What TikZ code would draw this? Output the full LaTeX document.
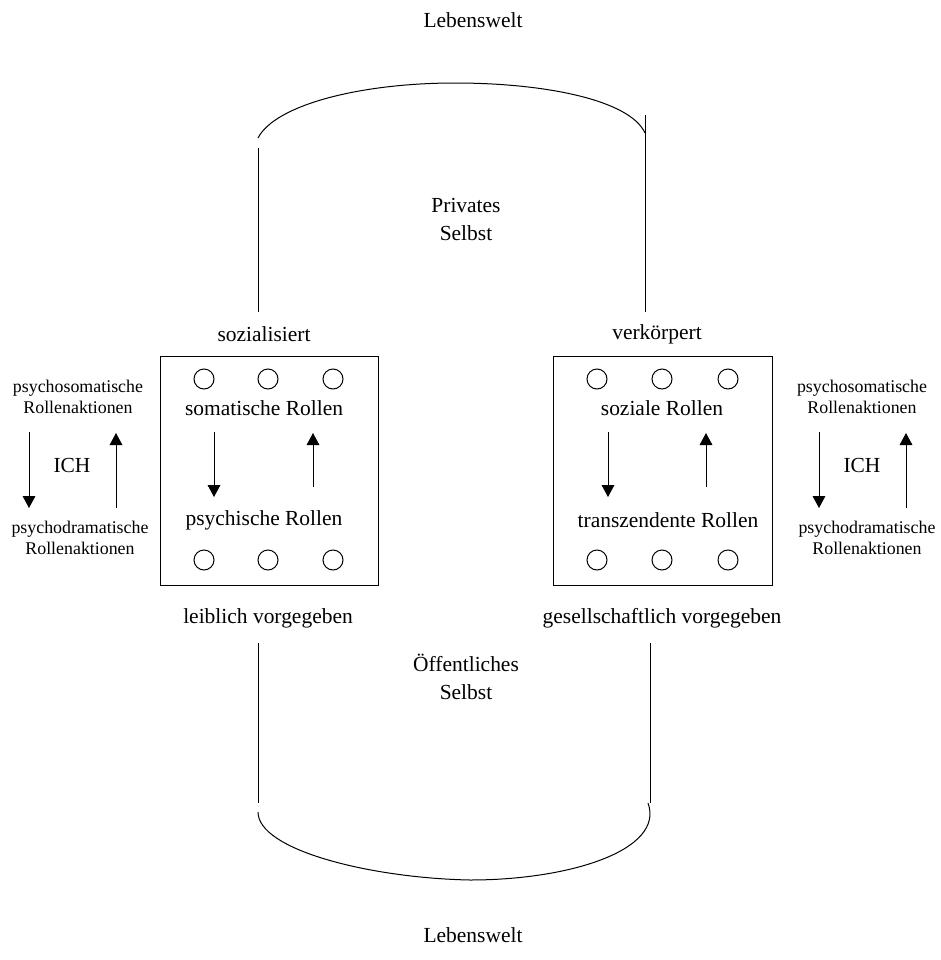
\documentclass[tikz,border=0pt]{standalone}
\usepackage{fontspec}
\setmainfont{Liberation Serif}
\usetikzlibrary{arrows.meta}
\begin{document}
\begin{tikzpicture}[x=0.75pt,y=-0.75pt,line width=0.75pt,
  big/.style={font=\fontsize{16.1}{21}\selectfont,inner sep=0pt,align=center},
  small/.style={font=\fontsize{13.4}{15.75}\selectfont,inner sep=0pt,align=center},
  ring/.style={circle,draw,minimum size=15pt,inner sep=0pt},
  rolebox/.style={draw,inner sep=0pt,minimum height=171.75pt},
  flow/.style={-{Triangle[length=9pt,width=9.5pt]}}]
\useasboundingbox (0,0) rectangle (941,960);

% headings
\node[big] (lwtop) at (473,20) {Lebenswelt};
\node[big] (lwbot) at (473,935) {Lebenswelt};
\node[big] (priv) at (466,219) {Privates\\Selbst};
\node[big] (pub) at (466,677) {Öffentliches\\Selbst};

% the two role boxes
\node[rolebox,minimum width=163.5pt] (lbox) at (269,470.5) {};
\node[rolebox,minimum width=164.25pt] (rbox) at (662.5,470.5) {};

\node[big] (soz) at (264,334) {sozialisiert};
\node[big] (verk) at (657,334) {verkörpert};
\node[big] (leib) at (268,618) {leiblich vorgegeben};
\node[big] (ges) at (662,618) {gesellschaftlich vorgegeben};

% circles in the boxes
\foreach \x [count=\i] in {204,268,333}{
  \node[ring] (lt\i) at (\x,379) {};
  \node[ring] (lb\i) at (\x,560) {};
}
\foreach \x [count=\i] in {597,662,728}{
  \node[ring] (rt\i) at (\x,379) {};
  \node[ring] (rb\i) at (\x,560) {};
}

% role texts
\node[big] (som) at (264,408) {somatische Rollen};
\node[big] (psy) at (264,520) {psychische Rollen};
\node[big] (sozr) at (662,408) {soziale Rollen};
\node[big] (tra) at (668,520) {transzendente Rollen};

% arrows inside the boxes
\coordinate (la1) at (214,432); \coordinate (la2) at (214,497);
\coordinate (lu1) at (313,487); \coordinate (lu2) at (313,433);
\coordinate (ra1) at (608,432); \coordinate (ra2) at (608,497);
\coordinate (ru1) at (706,487); \coordinate (ru2) at (706,433);
\draw[flow] (la1) -- (la2);
\draw[flow] (lu1) -- (lu2);
\draw[flow] (ra1) -- (ra2);
\draw[flow] (ru1) -- (ru2);

% side texts (ICH)
\node[small] (lps) at (78,397) {psychosomatische\\Rollenaktionen};
\node[big] (lich) at (72,465) {ICH};
\node[small] (lpd) at (80,538) {psychodramatische\\Rollenaktionen};
\node[small] (rps) at (862,397) {psychosomatische\\Rollenaktionen};
\node[big] (rich) at (862,465) {ICH};
\node[small] (rpd) at (867,538) {psychodramatische\\Rollenaktionen};

\coordinate (sa1) at (29,432); \coordinate (sa2) at (29,508);
\coordinate (su1) at (116,508); \coordinate (su2) at (116,433);
\coordinate (ta1) at (819,432); \coordinate (ta2) at (819,508);
\coordinate (tu1) at (906,508); \coordinate (tu2) at (906,433);
\draw[flow] (sa1) -- (sa2);
\draw[flow] (su1) -- (su2);
\draw[flow] (ta1) -- (ta2);
\draw[flow] (tu1) -- (tu2);

% private self: walls and top arc
\coordinate (pl1) at (258,148); \coordinate (pl2) at (258,312);
\coordinate (pr1) at (645,115); \coordinate (pr2) at (645,312);
\draw (pl1) -- (pl2);
\draw (pr1) -- (pr2);
\coordinate (al) at (258,138); \coordinate (ap) at (455,83); \coordinate (ar) at (645,133);
\draw (al) .. controls (275,105) and (360,83) .. (ap)
           .. controls (545,83) and (630,100) .. (ar);

% public self: walls and bottom arc
\coordinate (ql1) at (258,643); \coordinate (ql2) at (258,803);
\coordinate (qr1) at (650,643); \coordinate (qr2) at (650,803);
\draw (ql1) -- (ql2);
\draw (qr1) -- (qr2);
\coordinate (bl) at (258,812); \coordinate (bp) at (470,880); \coordinate (br) at (648,803);
\draw (bl) .. controls (258,850) and (370,878) .. (bp)
           .. controls (570,880) and (665,850) .. (br);
\end{tikzpicture}
\end{document}
